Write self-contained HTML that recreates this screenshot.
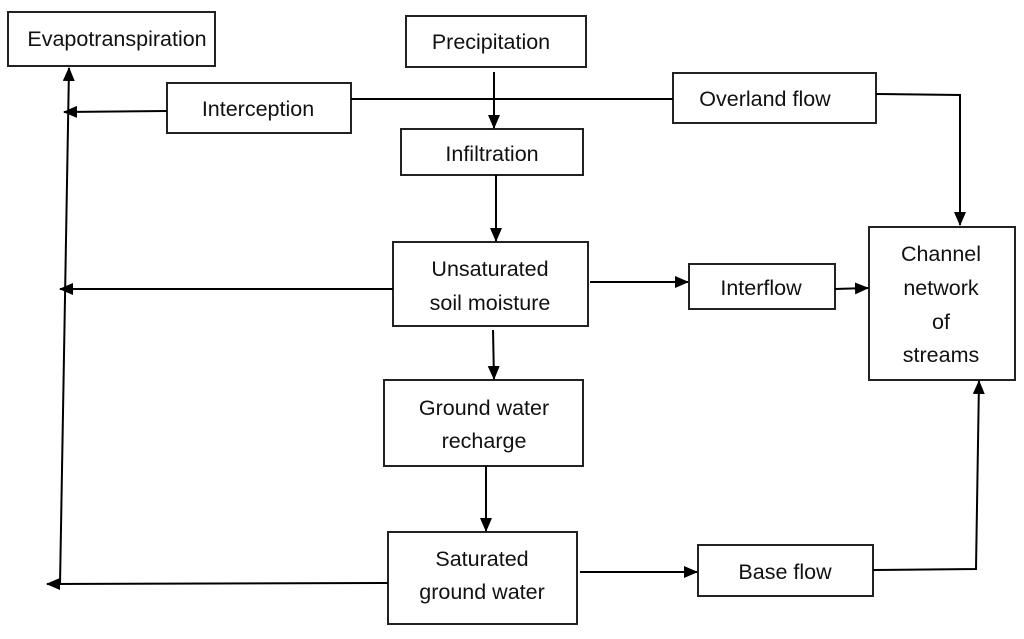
<!DOCTYPE html>
<html><head><style>
body{margin:0;background:#fff;}
svg text{font-family:"Liberation Sans",sans-serif;font-size:21.5px;fill:#111;text-anchor:middle;}
</style></head><body>
<svg width="1024" height="634" viewBox="0 0 1024 634" xmlns="http://www.w3.org/2000/svg">
<defs><marker id="a" markerWidth="14" markerHeight="12" refX="13" refY="6" orient="auto" markerUnits="userSpaceOnUse"><path d="M0,0 L14,6 L0,12 z" fill="#000"/></marker></defs>
<g fill="#fff" stroke="#222" stroke-width="2">
<rect x="8" y="12" width="207" height="54"/>
<rect x="406" y="16" width="180" height="51"/>
<rect x="167" y="83" width="184" height="50"/>
<rect x="401" y="129" width="182" height="46"/>
<rect x="673" y="73" width="203" height="50"/>
<rect x="393" y="242" width="195" height="84"/>
<rect x="689" y="264" width="146" height="45"/>
<rect x="869" y="227" width="146" height="153"/>
<rect x="384" y="380" width="199" height="86"/>
<rect x="388" y="532" width="189" height="92"/>
<rect x="698" y="545" width="175" height="51"/>
</g>
<g stroke="#000" stroke-width="2" fill="none">
<line x1="60" y1="585" x2="69" y2="68" marker-end="url(#a)"/>
<line x1="167" y1="111" x2="64" y2="112" marker-end="url(#a)"/>
<line x1="393" y1="289" x2="60" y2="289" marker-end="url(#a)"/>
<line x1="388" y1="583" x2="47" y2="584" marker-end="url(#a)"/>
<line x1="351" y1="99" x2="673" y2="99"/>
<line x1="494" y1="72" x2="494" y2="128" marker-end="url(#a)"/>
<line x1="496" y1="175" x2="496" y2="241" marker-end="url(#a)"/>
<line x1="493" y1="330" x2="494" y2="379" marker-end="url(#a)"/>
<line x1="486" y1="466" x2="486" y2="531" marker-end="url(#a)"/>
<polyline points="876,94 960,95 960,225" marker-end="url(#a)"/>
<line x1="590" y1="282" x2="688" y2="282" marker-end="url(#a)"/>
<line x1="835" y1="289" x2="868" y2="288" marker-end="url(#a)"/>
<line x1="580" y1="572" x2="697" y2="572" marker-end="url(#a)"/>
<polyline points="873,570 976,569 979,381" marker-end="url(#a)"/>
</g>
<text x="117" y="46">Evapotranspiration</text>
<text x="491" y="49">Precipitation</text>
<text x="258" y="116">Interception</text>
<text x="492" y="161">Infiltration</text>
<text x="765" y="106">Overland flow</text>
<text x="490" y="276">Unsaturated</text>
<text x="490" y="310">soil moisture</text>
<text x="761" y="295">Interflow</text>
<text x="941" y="261">Channel</text>
<text x="941" y="295">network</text>
<text x="941" y="329">of</text>
<text x="941" y="362">streams</text>
<text x="484" y="415">Ground water</text>
<text x="484" y="448">recharge</text>
<text x="482" y="566">Saturated</text>
<text x="482" y="599">ground water</text>
<text x="785" y="579">Base flow</text>
</svg>
</body></html>
